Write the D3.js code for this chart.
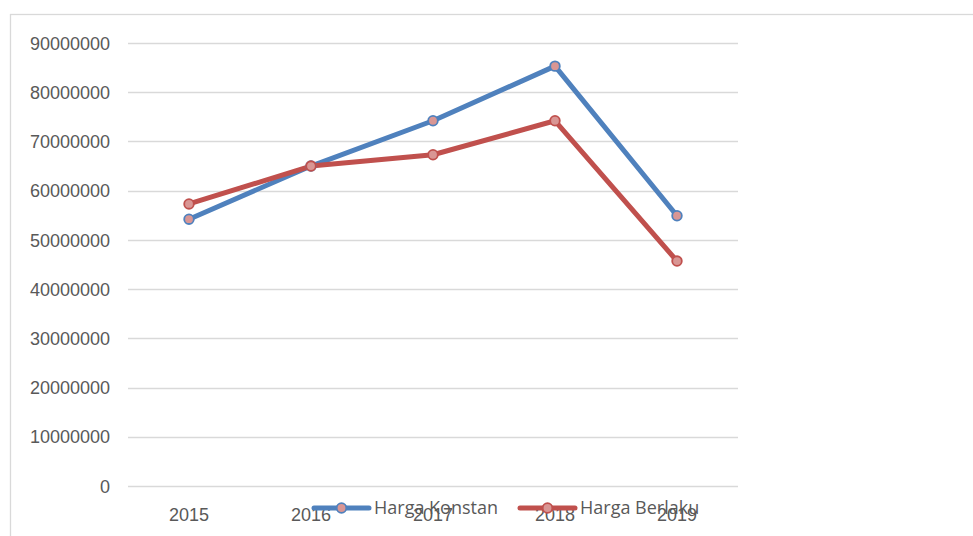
<!DOCTYPE html>
<html><head><meta charset="utf-8">
<script src="https://cdn.jsdelivr.net/npm/d3@7"></script>
<style>body{margin:0;background:#fff;}svg{display:block;font-family:"Open Sans","Liberation Sans",sans-serif;}</style>
</head><body>
<svg id="c" width="973" height="536"></svg>
<script>
const categories = ["2015","2016","2017","2018","2019"];
const hargaKonstan = [54200000, 65000000, 74200000, 85300000, 54900000];
const hargaBerlaku = [57300000, 65000000, 67300000, 74200000, 45700000];
const yTicks = [0,10000000,20000000,30000000,40000000,50000000,60000000,70000000,80000000,90000000];
const seriesNames = ["Harga Konstan","Harga Berlaku"];
const seriesColors = ["#4f81bd","#c0504d"];

const svg = d3.select("#c");
svg.append("rect").attr("x",10.5).attr("y",14.5).attr("width",980).attr("height",600)
  .attr("fill","#fff").attr("stroke","#d9d9d9").attr("stroke-width",1.3);

const x = d3.scaleBand().domain(categories).range([128,738]);
const y = d3.scaleLinear().domain([0,90000000]).range([486,43]);

const grid = svg.append("g");
grid.selectAll("line").data(yTicks).join("line")
  .attr("x1",128).attr("x2",738).attr("y1",d=>Math.round(y(d))+0.5).attr("y2",d=>Math.round(y(d))+0.5)
  .attr("stroke","#d9d9d9").attr("stroke-width",1.3);

const yAxis = svg.append("g").attr("transform","translate(128,0)")
  .call(d3.axisLeft(y).tickValues(yTicks).tickFormat(d3.format("d")).tickSize(0).tickPadding(18));
yAxis.select(".domain").remove();
yAxis.selectAll("text").attr("fill","#595959").style("font-size","18px").attr("dy","0.34em");

const xAxis = svg.append("g").attr("transform","translate(0,486)")
  .call(d3.axisBottom(x).tickSize(0).tickPadding(0));
xAxis.select(".domain").remove();
xAxis.selectAll("text").attr("fill","#595959").style("font-size","18px").attr("dy",0).attr("y",35);

const data = [hargaKonstan, hargaBerlaku];
const line = d3.line().x((d,i)=>x(categories[i])+x.bandwidth()/2).y(d=>y(d));
data.forEach((s,k)=>{
  svg.append("path").datum(s).attr("d",line).attr("fill","none")
    .attr("stroke",seriesColors[k]).attr("stroke-width",5).attr("stroke-linejoin","round");
});
data.forEach((s,k)=>{
  svg.append("g").selectAll("circle").data(s).join("circle")
    .attr("cx",(d,i)=>x(categories[i])+x.bandwidth()/2).attr("cy",d=>y(d)).attr("r",4.8)
    .attr("fill","#d99694").attr("stroke",seriesColors[k]).attr("stroke-width",1.8);
});

// legend
const legX = [314, 520];
const leg = svg.append("g");
seriesNames.forEach((n,k)=>{
  const g = leg.append("g").attr("transform",`translate(${legX[k]},508)`);
  g.append("line").attr("x1",0).attr("x2",55).attr("y1",0).attr("y2",0)
    .attr("stroke",seriesColors[k]).attr("stroke-width",5).attr("stroke-linecap","round");
  g.append("circle").attr("cx",27.5).attr("cy",0).attr("r",4.8)
    .attr("fill","#d99694").attr("stroke",seriesColors[k]).attr("stroke-width",1.8);
  g.append("text").attr("x",60).attr("y",6).attr("fill","#595959").style("font-size","18px").text(n);
});
</script>
</body></html>
